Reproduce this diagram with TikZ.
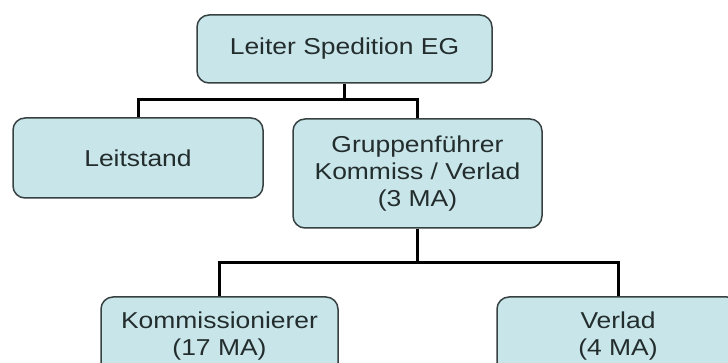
\documentclass[tikz,border=0pt]{standalone}
\usepackage{fontspec}
\setmainfont[FakeStretch=1.15]{Liberation Sans}
\usepackage{tikz}
\usetikzlibrary{positioning}
\usepackage{xcolor}
\definecolor{boxfill}{RGB}{200,229,233}
\definecolor{boxline}{RGB}{55,65,65}
\definecolor{boxtext}{RGB}{35,45,45}

\begin{document}
\begin{tikzpicture}[x=1pt, y=-1pt,
    orgbox/.style={draw=boxline, line width=1.5pt, fill=boxfill, rounded corners=12pt,
        text=boxtext, align=center, inner sep=0pt,
        font=\fontsize{23}{27}\selectfont},
    link/.style={draw=black, line width=3pt}]
        \useasboundingbox (0,0) rectangle (728,363);
        \clip (0,0) rectangle (728,363);
        % Nodes
        \node[orgbox, minimum width=295pt, minimum height=68pt] (leiter) at (344.5,49) {Leiter Spedition EG};
        \node[orgbox, minimum width=250pt, minimum height=80pt] (leitstand) at (138,158) {Leitstand};
        \node[orgbox, minimum width=249pt, minimum height=109pt] (gruppe) at (417.5,173.5) {Gruppenführer\\Kommiss / Verlad\\(3 MA)};
        \node[orgbox, minimum width=237pt, minimum height=78pt] (komm) at (219.5,336) {Kommissionierer\\(17 MA)};
        \node[orgbox, minimum width=242pt, minimum height=78pt] (verlad) at (618,336) {Verlad\\(4 MA)};
        % Junctions
        \coordinate (j1) at (344.5,100);
        \coordinate (j2) at (417.5,263);
        % Links
        \draw[link] (leiter.south) -- (j1);
        \draw[link] (j1) -| (leitstand.north);
        \draw[link] (j1) -| (gruppe.north);
        \draw[link] (gruppe.south) -- (j2);
        \draw[link] (j2) -| (komm.north);
        \draw[link] (j2) -| (verlad.north);
    \end{tikzpicture}
\end{document}
